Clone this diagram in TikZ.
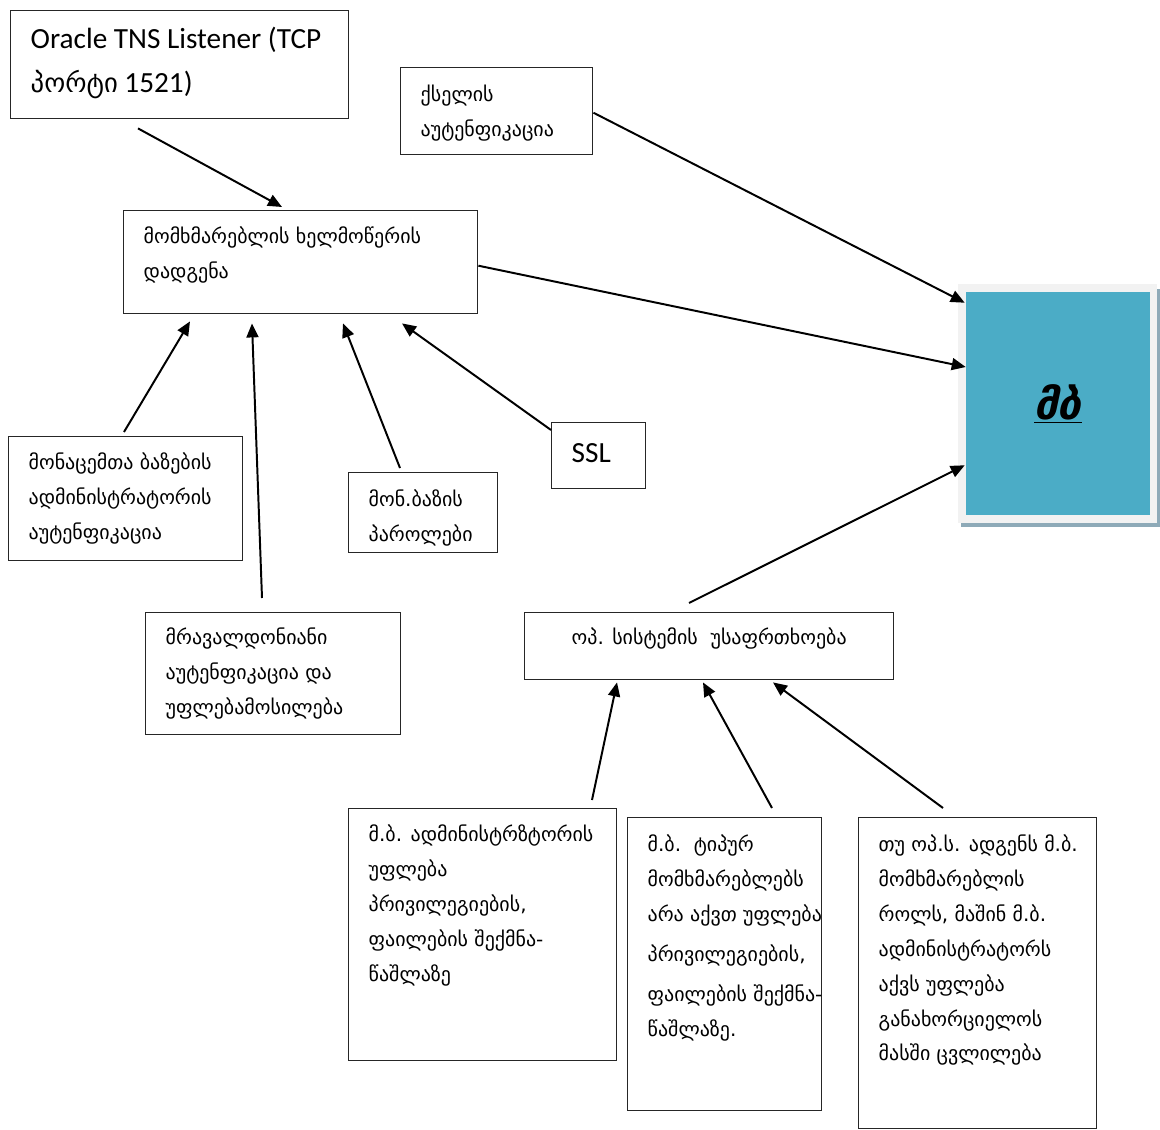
\documentclass[tikz,border=0pt]{standalone}
\usepackage{fontspec}
\setmainfont{Carlito}
\newfontfamily\geo{DejaVu Sans}
\usetikzlibrary{arrows.meta,calc}

\newlength\pxu
\setlength\pxu{0.025cm}
% text block of a box: width, height, first baseline (all in px), lines
\newcommand{\boxtxt}[4]{\parbox[t][#2\pxu][t]{#1\pxu}{\raggedright\rule{0pt}{#3\pxu}#4}}

\definecolor{boxline}{HTML}{262626}
\definecolor{dbfill}{HTML}{4BACC6}
\definecolor{dbframe}{HTML}{F2F2F2}
\definecolor{dbshadow}{HTML}{8EAAB8}

\tikzset{
  box/.style={draw=boxline, line width=1pt, anchor=north west,
    inner xsep=20\pxu, inner ysep=8\pxu,
    font=\geo\fontsize{14.2}{24.8}\selectfont},
  latinbox/.style={box, font=\fontsize{20.8}{31.2}\selectfont},
  arr/.style={line width=1.4pt, -{Triangle[length=0.35cm,width=0.3cm]}}
}

\begin{document}
\begin{tikzpicture}[x=0.025cm, y=-0.025cm]
  \useasboundingbox (0,0) rectangle (1160,1130);

  % top row
  \node[latinbox] (oracle) at (10,10)
    {\boxtxt{298}{92}{30}{Oracle TNS Listener (TCP\\{\geo\fontsize{19}{31.2}\selectfont პორტი} 1521)}};
  \node[box] (net) at (400,67)
    {\boxtxt{152}{71}{26}{ქსელის\\აუტენფიკაცია}};
  \node[box] (user) at (123,210)
    {\boxtxt{314}{87}{25}{მომხმარებლის ხელმოწერის\\დადგენა}};

  % inputs of the signature box
  \node[box] (dbaauth) at (8,436)
    {\boxtxt{194}{108}{25}{მონაცემთა ბაზების\\ადმინისტრატორის\\აუტენფიკაცია}};
  \node[box] (multi) at (145,612)
    {\boxtxt{215}{106}{24}{მრავალდონიანი\\აუტენფიკაცია და\\უფლებამოსილება}};
  \node[box] (pwd) at (348,472)
    {\boxtxt{109}{64}{26}{მონ.ბაზის\\პაროლები}};
  \node[latinbox] (ssl) at (551,422)
    {\boxtxt{54}{50}{32}{SSL}};

  % database block
  \fill[dbshadow] (961,289) rectangle (1160,527);
  \fill[dbframe] (958,284) rectangle (1157,523);
  \node[fill=dbfill, minimum width=184\pxu, minimum height=223\pxu, inner sep=0pt,
    font=\geo\bfseries\itshape\fontsize{30}{36}\selectfont] (db) at (1058,403.5)
    {\underline{მბ}};

  % operating system
  \node[box] (os) at (524,612)
    {\boxtxt{329}{51}{24}{\centering ოპ. სისტემის\ \ უსაფრთხოება}};
  \node[box] (right1) at (348,808)
    {\boxtxt{228}{236}{25}{\mbox{მ.ბ. ადმინისტრზტორის}\\უფლება\\პრივილეგიების,\\\mbox{ფაილების შექმნა-}\\წაშლაზე}};
  \node[box] (right2) at (627,817)
    {\boxtxt{154}{277}{26}{\mbox{მ.ბ.\ \ ტიპურ}\\მომხმარებლებს\\\mbox{არა აქვთ უფლება}\\[5\pxu]პრივილეგიების,\\[5\pxu]\mbox{ფაილების შექმნა-}\\წაშლაზე.}};
  \node[box] (right3) at (858,817)
    {\boxtxt{198}{295}{26}{\mbox{თუ ოპ.ს. ადგენს მ.ბ.}\\მომხმარებლის\\\mbox{როლს, მაშინ მ.ბ.}\\ადმინისტრატორს\\აქვს უფლება\\განახორციელოს\\მასში ცვლილება}};

  % connectors
  \draw[arr] ($(oracle.south west)+(128,9)$) -- ($(user.north west)+(159,-3)$);
  \draw[arr] ($(net.east)+(0,1.5)$) -- ($(db.north west)+(-1,11)$);
  \draw[arr] ($(user.east)+(0,3.5)$) -- ($(db.west)+(0,-36.5)$);
  \draw[arr] ($(dbaauth.north west)+(116,-4)$) -- ($(user.south west)+(67,7)$);
  \draw[arr] ($(multi.north west)+(117,-14)$) -- ($(user.south west)+(129,9)$);
  \draw[arr] ($(pwd.north west)+(52,-4)$) -- ($(user.south west)+(220,9)$);
  \draw[arr] ($(ssl.north west)+(0,8)$) -- ($(user.south west)+(279,9)$);
  \draw[arr] ($(os.north west)+(165,-9)$) -- ($(db.south west)+(-1,-50)$);
  \draw[arr] ($(right1.north west)+(244,-8)$) -- ($(os.south west)+(93,2)$);
  \draw[arr] ($(right2.north west)+(145,-9)$) -- ($(os.south west)+(179,2)$);
  \draw[arr] ($(right3.north west)+(85,-9)$) -- ($(os.south west)+(249,2)$);
\end{tikzpicture}
\end{document}
